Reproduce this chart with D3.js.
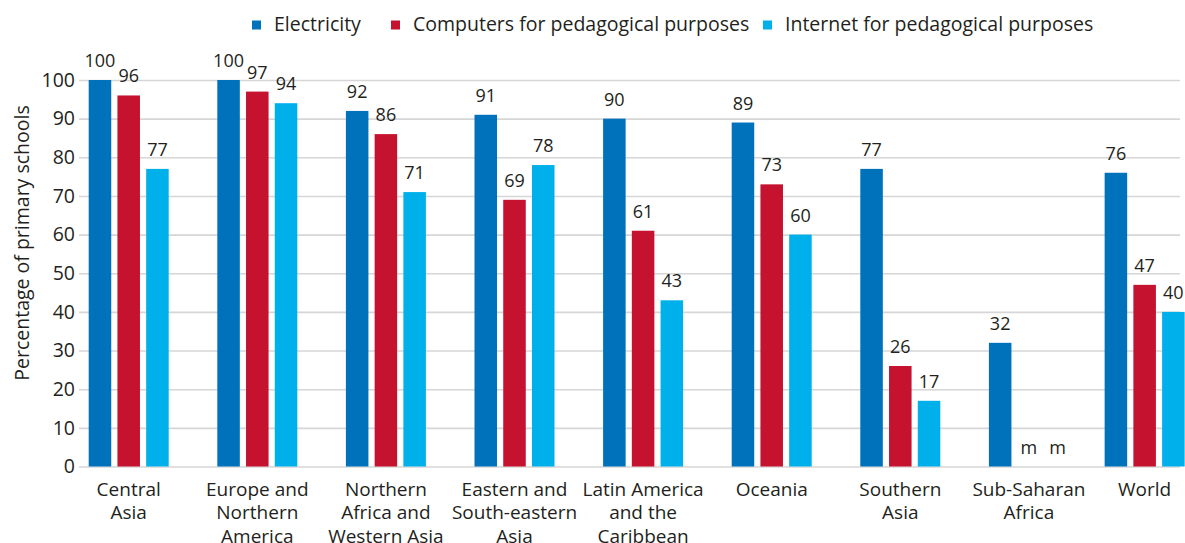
<!DOCTYPE html>
<html>
<head>
<meta charset="utf-8">
<script src="https://cdn.jsdelivr.net/npm/d3@7"></script>
<style>
  html, body { margin: 0; padding: 0; background: #fff; }
  svg { display: block; }
  text { font-family: "Open Sans", "Noto Sans", sans-serif; fill: #231f20; }
</style>
</head>
<body>
<svg id="chart" width="1185" height="543"></svg>
<script>
// ---- data ----
const categories = [
  "Central Asia",
  "Europe and Northern America",
  "Northern Africa and Western Asia",
  "Eastern and South-eastern Asia",
  "Latin America and the Caribbean",
  "Oceania",
  "Southern Asia",
  "Sub-Saharan Africa",
  "World"
];
const categoryLines = [
  ["Central", "Asia"],
  ["Europe and", "Northern", "America"],
  ["Northern", "Africa and", "Western Asia"],
  ["Eastern and", "South-eastern", "Asia"],
  ["Latin America", "and the", "Caribbean"],
  ["Oceania"],
  ["Southern", "Asia"],
  ["Sub-Saharan", "Africa"],
  ["World"]
];
const seriesNames = ["Electricity", "Computers for pedagogical purposes", "Internet for pedagogical purposes"];
const electricity = [100, 100, 92, 91, 90, 89, 77, 32, 76];
const computers   = [96, 97, 86, 69, 61, 73, 26, null, 47];
const internet    = [77, 94, 71, 78, 43, 60, 17, null, 40];
const yTicks = [0, 10, 20, 30, 40, 50, 60, 70, 80, 90, 100];
const missingLabel = "m";
const yAxisTitle = "Percentage of primary schools";

// ---- layout ----
const colors = ["#0072bc", "#c4122f", "#00b0ea"];
const groupSlots = [0, 1, 2, 3, 4, 5, 6, 7, 7.9];
const seriesValues = [electricity, computers, internet];

const svg = d3.select("#chart");

const y = d3.scaleLinear().domain([0, 100]).range([466.5, 80]);
const xSlot = d3.scaleLinear().domain([0, 8]).range([128.7, 1157.5]);
const xGroup = d3.scaleOrdinal().domain(categories).range(groupSlots.map(s => xSlot(s)));
const xSub = d3.scaleBand().domain(seriesNames).range([-40, 40]).paddingInner(0.216).paddingOuter(0);

// gridlines + y axis
const yAxis = d3.axisLeft(y).tickValues(yTicks).tickSize(-(1180 - 85)).tickPadding(5);
const gAxis = svg.append("g").attr("transform", "translate(85,0)").call(yAxis);
gAxis.select(".domain").remove();
gAxis.selectAll(".tick line").attr("stroke", "#d6d6d6").attr("stroke-width", 1.6).attr("x1", -6);
gAxis.selectAll(".tick text")
  .attr("x", -10)
  .style("font-size", "19.5px")
  .style("font-family", "'Open Sans', sans-serif")
  .attr("fill", "#231f20");

// y title
svg.append("text")
  .attr("transform", "translate(29,243) rotate(-90)")
  .attr("text-anchor", "middle")
  .style("font-size", "19.5px")
  .text(yAxisTitle);

// bars
const flat = [];
categories.forEach((c, i) => {
  seriesNames.forEach((s, j) => {
    flat.push({ cat: c, series: s, j: j, value: seriesValues[j][i] });
  });
});

const barG = svg.append("g");
barG.selectAll("rect")
  .data(flat.filter(d => d.value != null))
  .join("rect")
  .attr("x", d => xGroup(d.cat) + xSub(d.series))
  .attr("width", xSub.bandwidth())
  .attr("y", d => y(d.value))
  .attr("height", d => y(0) - y(d.value))
  .attr("fill", d => colors[d.j]);

// value labels
svg.append("g").selectAll("text")
  .data(flat)
  .join("text")
  .attr("x", d => xGroup(d.cat) + xSub(d.series) + xSub.bandwidth() / 2)
  .attr("y", d => y(d.value == null ? 0 : d.value) - 13)
  .attr("text-anchor", "middle")
  .style("font-size", "18px")
  .text(d => d.value == null ? missingLabel : d.value);

// x labels
const xl = svg.append("g");
categories.forEach((c, i) => {
  const t = xl.append("text")
    .attr("x", xGroup(c))
    .attr("y", 495.5)
    .attr("text-anchor", "middle")
    .style("font-size", "19px");
  categoryLines[i].forEach((line, k) => {
    t.append("tspan").attr("x", xGroup(c)).attr("dy", k === 0 ? 0 : 23.5).text(line);
  });
});

// legend
const legendX = [252, 391, 763];
const leg = svg.append("g");
seriesNames.forEach((s, j) => {
  leg.append("rect")
    .attr("x", legendX[j]).attr("y", 20.5)
    .attr("width", 9).attr("height", 9)
    .attr("fill", colors[j]);
  leg.append("text")
    .attr("x", legendX[j] + 22).attr("y", 31)
    .style("font-size", "19.5px")
    .text(s);
});
</script>
</body>
</html>
